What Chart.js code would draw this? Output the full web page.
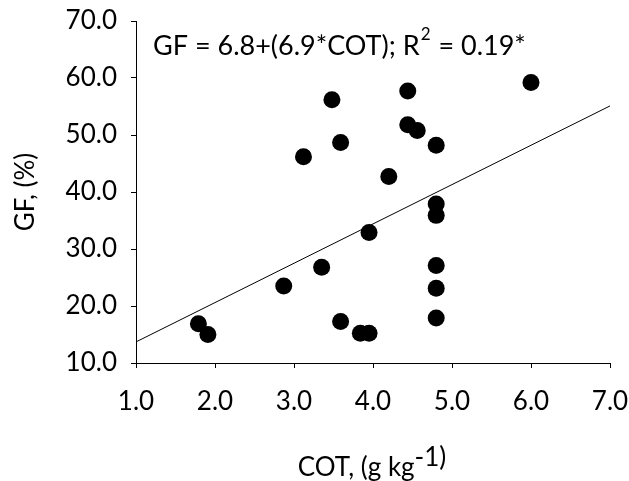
<!DOCTYPE html>
<html>
<head>
<meta charset="utf-8">
<script src="https://cdn.jsdelivr.net/npm/chart.js@4.4.1/dist/chart.umd.min.js"></script>
<style>
  html, body { margin: 0; padding: 0; background: #ffffff; }
  #wrap { width: 629px; height: 481px; }
</style>
</head>
<body>
<div id="wrap"><canvas id="c" width="629" height="481"></canvas></div>
<script>
// ---- data ----
const cotValues = [3.12, 3.48, 4.44, 6.00, 4.44, 4.56, 3.59, 4.80, 4.20, 4.80, 4.80, 3.95, 3.35, 2.87, 1.79, 1.91, 4.80, 4.80, 4.80, 3.59, 3.84, 3.95];
const gfValues  = [46.2, 56.2, 57.7, 59.2, 51.8, 50.8, 48.7, 48.2, 42.7, 37.9, 35.9, 32.9, 26.8, 23.5, 16.9, 15.0, 27.1, 23.1, 17.9, 17.3, 15.2, 15.2];
const trendX = [1.0, 7.0];
const trendY = [13.7, 55.1];
const xTickValues = [1, 2, 3, 4, 5, 6, 7];
const yTickValues = [10, 20, 30, 40, 50, 60, 70];
const yAxisTitle = 'GF, (%)';
const xTitleMain = 'COT, (g kg';
const xTitleSup = '-1)';
const eqMain = 'GF = 6.8+(6.9*COT); R';
const eqSup = '2';
const eqTail = ' = 0.19*';

const FONT = 'Lato';
const scatterPoints = cotValues.map((x, i) => ({ x: x, y: gfValues[i] }));
const trendPoints = trendX.map((x, i) => ({ x: x, y: trendY[i] }));

const textPlugin = {
  id: 'textPlugin',
  afterDraw(chart) {
    const ctx = chart.ctx;
    const area = chart.chartArea;
    ctx.save();
    ctx.fillStyle = '#000000';
    ctx.textBaseline = 'alphabetic';
    ctx.textAlign = 'left';
    // equation annotation
    const eqBig = '27px ' + FONT;
    const eqSmall = '17px ' + FONT;
    let x = area.left + 17;
    const y = area.top + 34;
    ctx.font = eqBig; ctx.fillText(eqMain, x, y); x += ctx.measureText(eqMain).width + 1;
    ctx.font = eqSmall; ctx.fillText(eqSup, x, y - 15); x += ctx.measureText(eqSup).width + 1;
    ctx.font = eqBig; ctx.fillText(eqTail, x, y);
    // x-axis title with superscript
    ctx.font = '26px ' + FONT;
    const w1 = ctx.measureText(xTitleMain).width;
    const w2 = ctx.measureText(xTitleSup).width;
    const cx = (area.left + area.right) / 2 - 1;
    const startX = cx - (w1 + w2) / 2;
    const by = area.bottom + 113;
    ctx.fillText(xTitleMain, startX, by);
    ctx.fillText(xTitleSup, startX + w1, by - 10);
    ctx.restore();
  }
};

new Chart(document.getElementById('c'), {
  type: 'scatter',
  data: {
    datasets: [
      {
        type: 'line',
        data: trendPoints,
        borderColor: '#000000',
        borderWidth: 1,
        pointRadius: 0,
        fill: false,
        tension: 0,
        order: 2
      },
      {
        type: 'scatter',
        data: scatterPoints,
        backgroundColor: '#000000',
        borderColor: '#000000',
        pointRadius: 8.5,
        pointHoverRadius: 8.5,
        borderWidth: 0,
        order: 1
      }
    ]
  },
  options: {
    responsive: false,
    animation: false,
    devicePixelRatio: 1,
    layout: { padding: { top: 21, right: 19, left: 0, bottom: 0 } },
    plugins: { legend: { display: false }, tooltip: { enabled: false } },
    scales: {
      x: {
        type: 'linear',
        min: 1, max: 7,
        afterBuildTicks: (s) => { s.ticks = xTickValues.map(v => ({ value: v })); },
        afterFit: (s) => { s.height = 118; s.paddingLeft = 0; s.paddingRight = 0; },
        ticks: {
          color: '#000000',
          font: { family: FONT, size: 26 },
          padding: 18,
          maxRotation: 0,
          callback: (v) => Number(v).toFixed(1)
        },
        grid: { drawOnChartArea: false, drawTicks: true, tickLength: 5, color: '#000000', lineWidth: 1 },
        border: { display: true, color: '#000000', width: 1 }
      },
      y: {
        type: 'linear',
        min: 10, max: 70,
        afterBuildTicks: (s) => { s.ticks = yTickValues.map(v => ({ value: v })); },
        afterFit: (s) => { s.width = 136; s.paddingTop = 0; s.paddingBottom = 0; },
        ticks: {
          color: '#000000',
          font: { family: FONT, size: 26 },
          padding: 14,
          callback: (v) => Number(v).toFixed(1)
        },
        title: {
          display: true,
          text: yAxisTitle,
          color: '#000000',
          font: { family: FONT, size: 26 },
          padding: { top: 10, bottom: 0 }
        },
        grid: { drawOnChartArea: false, drawTicks: true, tickLength: 5, color: '#000000', lineWidth: 1 },
        border: { display: true, color: '#000000', width: 1 }
      }
    }
  },
  plugins: [textPlugin]
});
</script>
</body>
</html>
